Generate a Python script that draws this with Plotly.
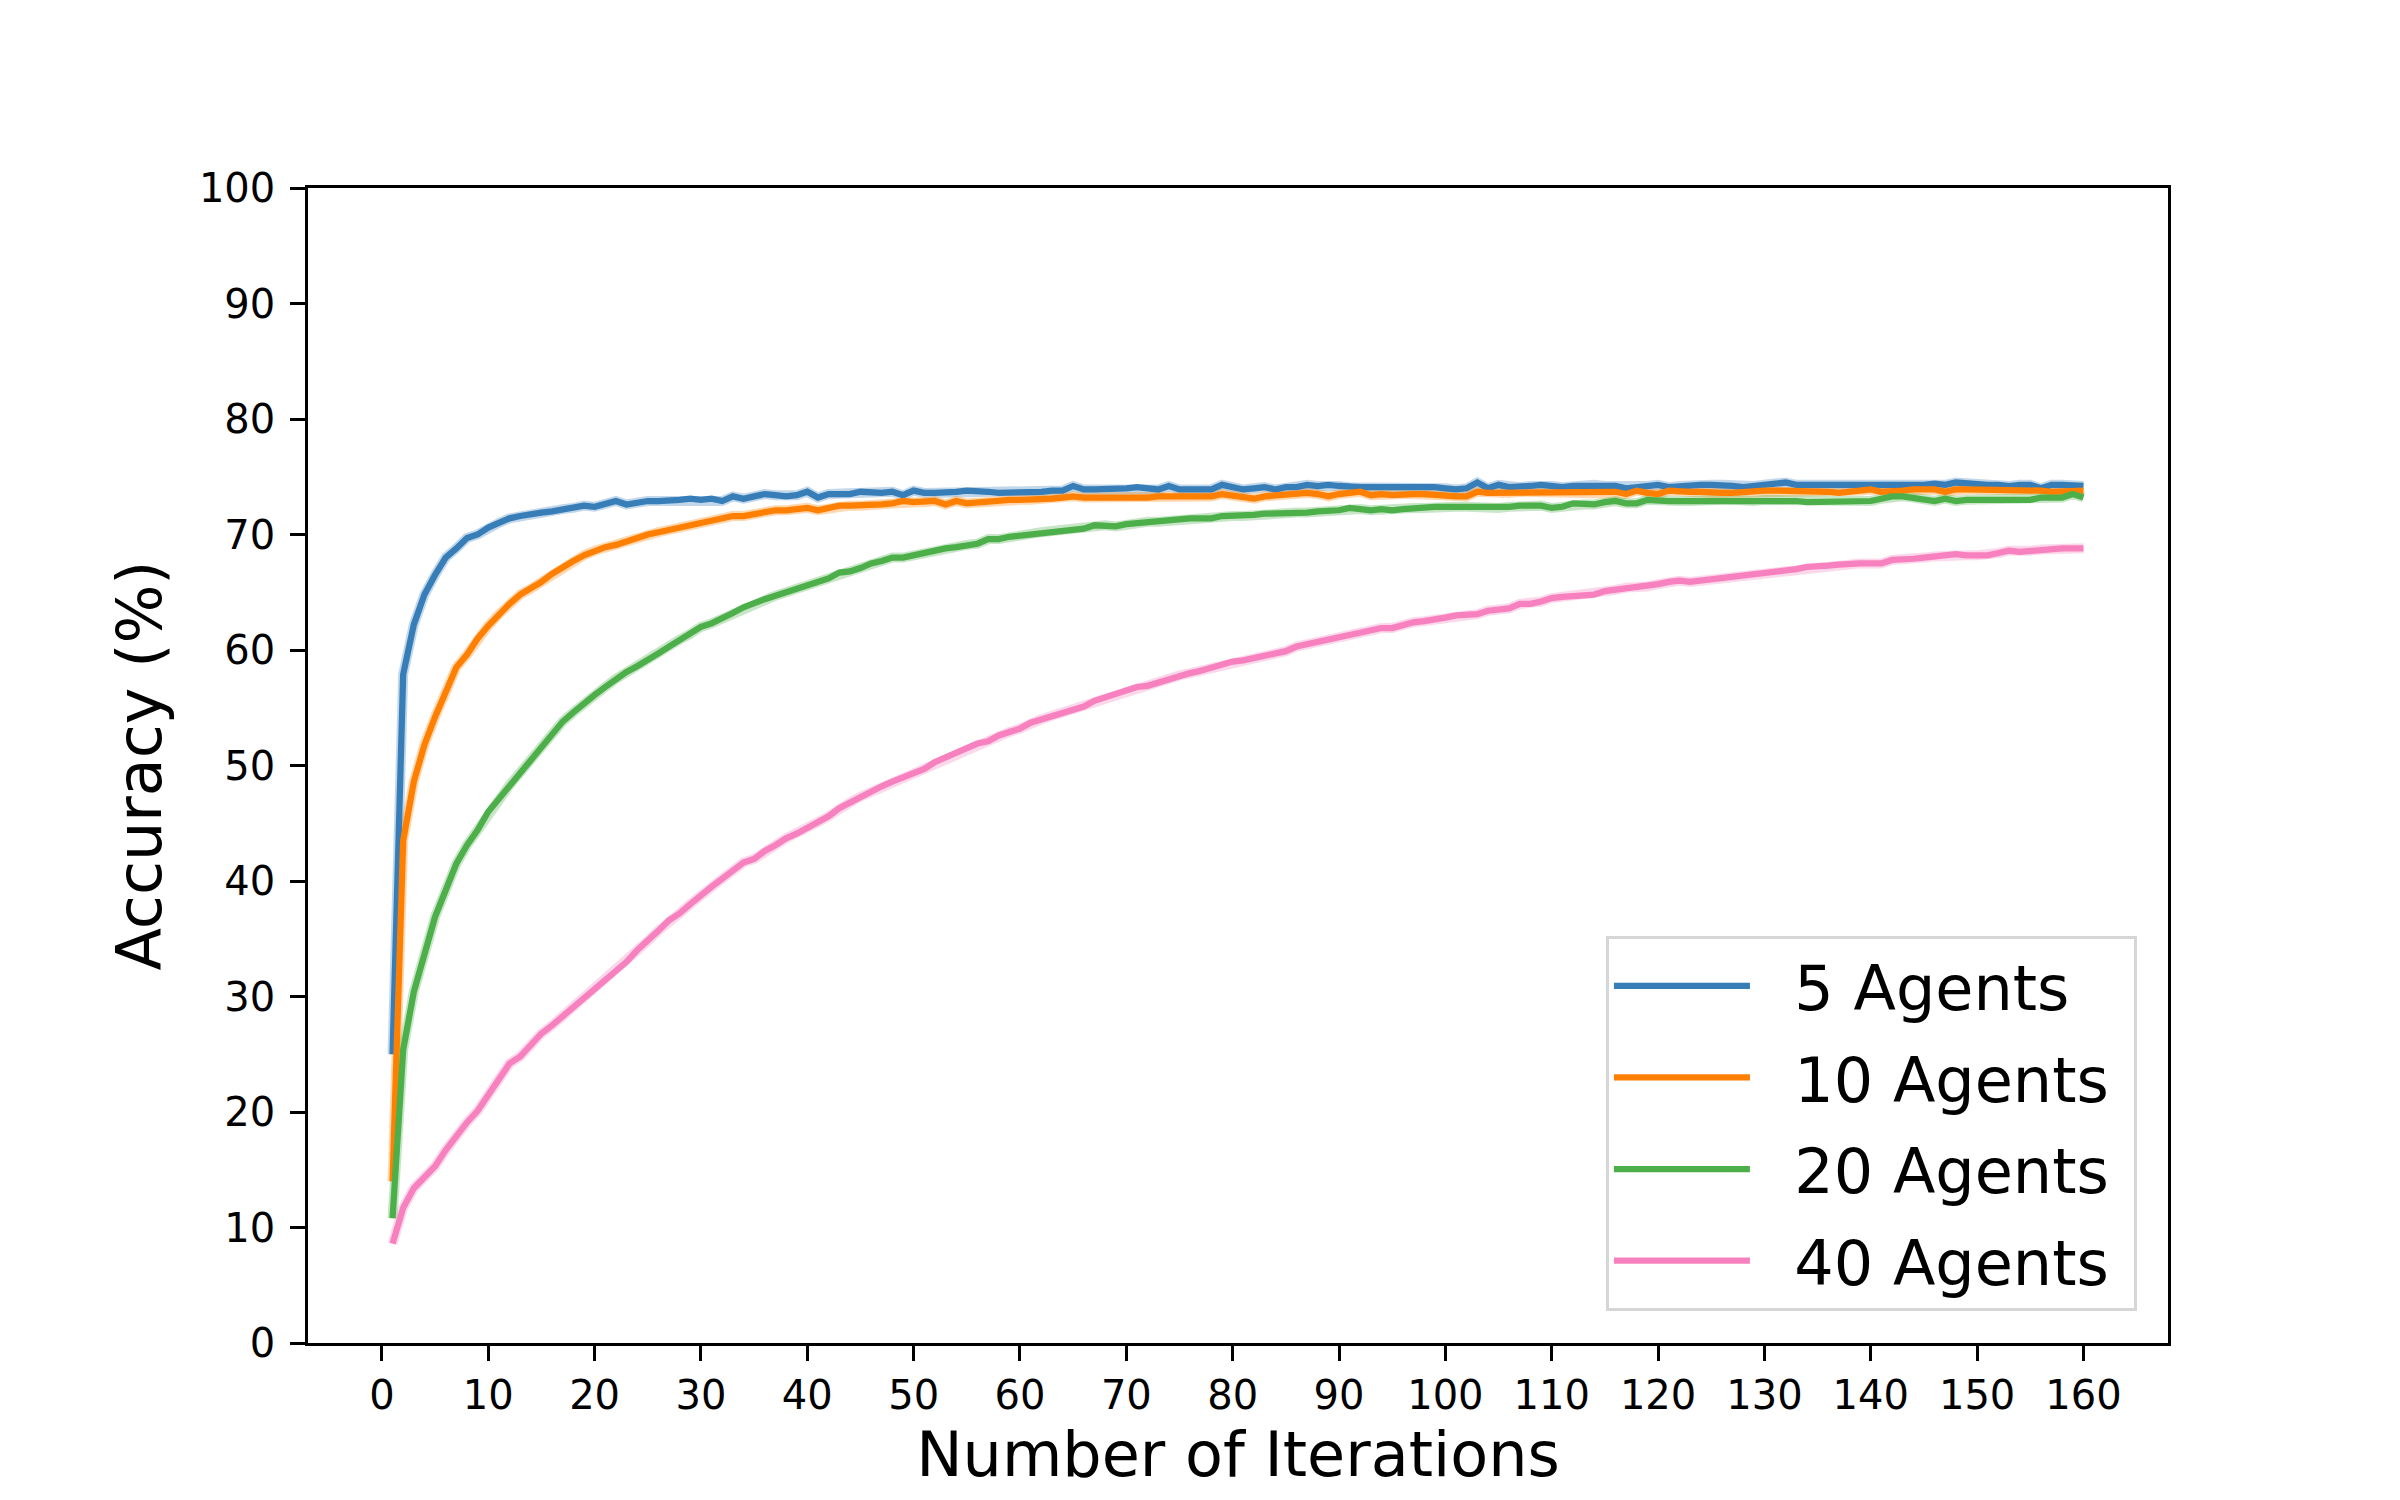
import plotly.graph_objects as go

iterations = list(range(1, 161))

acc_5_agents = [
    25.0, 57.9, 62.2, 64.8, 66.5, 68.0, 68.8, 69.7, 70.0, 70.6,
    71.0, 71.4, 71.6, 71.8, 71.9, 72.0, 72.2, 72.3, 72.5, 72.4,
    72.7, 72.9, 72.6, 72.8, 72.9, 72.9, 72.9, 73.0, 73.1, 73.0,
    73.1, 72.9, 73.3, 73.1, 73.3, 73.5, 73.4, 73.3, 73.4, 73.7,
    73.2, 73.5, 73.5, 73.5, 73.7, 73.6, 73.6, 73.7, 73.4, 73.8,
    73.6, 73.6, 73.6, 73.7, 73.8, 73.8, 73.7, 73.6, 73.6, 73.7,
    73.7, 73.7, 73.8, 73.8, 74.2, 73.9, 73.9, 73.9, 74.0, 74.0,
    74.1, 74.0, 73.9, 74.2, 73.9, 73.9, 73.9, 73.9, 74.3, 74.1,
    73.9, 74.0, 74.1, 73.9, 74.1, 74.1, 74.3, 74.2, 74.3, 74.2,
    74.1, 74.1, 74.1, 74.1, 74.2, 74.2, 74.1, 74.2, 74.1, 74.0,
    73.9, 74.0, 74.5, 74.0, 74.3, 74.1, 74.1, 74.2, 74.3, 74.2,
    74.1, 74.2, 74.2, 74.3, 74.2, 74.2, 74.0, 74.1, 74.2, 74.3,
    74.1, 74.2, 74.3, 74.3, 74.3, 74.3, 74.2, 74.1, 74.2, 74.3,
    74.4, 74.5, 74.3, 74.3, 74.2, 74.2, 74.2, 74.2, 74.2, 74.2,
    74.3, 74.3, 74.3, 74.3, 74.3, 74.4, 74.3, 74.5, 74.4, 74.3,
    74.3, 74.3, 74.2, 74.3, 74.3, 74.0, 74.3, 74.3, 74.2, 74.2,
]

acc_10_agents = [
    14.0, 43.5, 48.6, 51.8, 54.2, 56.4, 58.5, 59.6, 61.0, 62.1,
    63.1, 64.0, 64.8, 65.3, 65.9, 66.6, 67.2, 67.7, 68.2, 68.6,
    68.9, 69.1, 69.4, 69.8, 70.0, 70.2, 70.4, 70.6, 70.9, 71.1,
    71.2, 71.4, 71.6, 71.6, 71.8, 72.0, 72.1, 72.1, 72.2, 72.3,
    72.1, 72.3, 72.5, 72.5, 72.5, 72.6, 72.6, 72.7, 72.9, 72.8,
    72.8, 72.9, 72.6, 72.9, 72.7, 72.8, 72.8, 72.9, 73.0, 73.0,
    73.0, 73.1, 73.1, 73.2, 73.3, 73.2, 73.2, 73.2, 73.2, 73.2,
    73.1, 73.2, 73.3, 73.3, 73.2, 73.2, 73.3, 73.3, 73.5, 73.4,
    73.3, 73.1, 73.3, 73.4, 73.5, 73.5, 73.6, 73.5, 73.3, 73.5,
    73.6, 73.7, 73.4, 73.5, 73.4, 73.5, 73.5, 73.5, 73.4, 73.4,
    73.3, 73.3, 73.7, 73.6, 73.6, 73.6, 73.7, 73.7, 73.6, 73.6,
    73.6, 73.6, 73.6, 73.7, 73.7, 73.7, 73.5, 73.8, 73.6, 73.5,
    73.8, 73.7, 73.7, 73.7, 73.6, 73.6, 73.6, 73.7, 73.7, 73.8,
    73.8, 73.8, 73.7, 73.7, 73.7, 73.7, 73.6, 73.7, 73.8, 73.9,
    73.7, 73.7, 73.8, 73.9, 73.9, 73.9, 73.7, 73.9, 73.9, 73.9,
    73.9, 73.9, 73.9, 73.9, 73.8, 73.8, 73.7, 73.7, 73.8, 73.8,
]

acc_20_agents = [
    10.8, 25.4, 30.4, 33.8, 36.9, 39.2, 41.5, 43.1, 44.4, 46.0,
    47.1, 48.3, 49.4, 50.5, 51.7, 52.8, 53.8, 54.6, 55.4, 56.1,
    56.8, 57.5, 58.1, 58.6, 59.1, 59.7, 60.3, 60.9, 61.4, 62.0,
    62.3, 62.7, 63.2, 63.7, 64.1, 64.4, 64.7, 65.0, 65.3, 65.6,
    65.9, 66.2, 66.7, 66.8, 67.1, 67.5, 67.7, 68.0, 68.0, 68.2,
    68.5, 68.7, 68.8, 68.9, 69.1, 69.2, 69.6, 69.6, 69.8, 69.9,
    70.0, 70.2, 70.3, 70.4, 70.5, 70.5, 70.8, 70.8, 70.7, 70.9,
    71.0, 71.1, 71.1, 71.2, 71.3, 71.4, 71.4, 71.4, 71.6, 71.6,
    71.6, 71.7, 71.8, 71.8, 71.9, 71.9, 71.9, 72.0, 72.0, 72.1,
    72.3, 72.2, 72.1, 72.2, 72.1, 72.2, 72.3, 72.3, 72.4, 72.4,
    72.4, 72.4, 72.3, 72.4, 72.3, 72.4, 72.5, 72.5, 72.5, 72.3,
    72.4, 72.7, 72.6, 72.6, 72.8, 72.9, 72.7, 72.7, 73.0, 72.9,
    72.9, 72.9, 72.9, 73.0, 73.0, 73.0, 73.0, 72.9, 72.9, 73.0,
    73.0, 73.0, 72.9, 72.8, 72.8, 72.9, 72.9, 72.9, 72.9, 72.9,
    73.1, 73.3, 73.3, 73.2, 73.1, 72.9, 73.1, 72.9, 73.0, 73.0,
    73.1, 73.1, 73.1, 73.0, 73.0, 73.2, 73.2, 73.2, 73.5, 73.2,
]

acc_40_agents = [
    8.6, 11.7, 13.4, 14.3, 15.3, 16.7, 18.0, 19.1, 20.1, 21.5,
    22.9, 24.2, 24.8, 25.9, 26.8, 27.5, 28.3, 29.0, 29.8, 30.6,
    31.4, 32.2, 33.0, 34.0, 34.8, 35.7, 36.6, 37.2, 38.0, 38.8,
    39.5, 40.2, 40.9, 41.6, 41.9, 42.6, 43.1, 43.7, 44.1, 44.6,
    45.1, 45.6, 46.3, 46.8, 47.3, 47.7, 48.2, 48.6, 49.0, 49.4,
    49.7, 50.3, 50.7, 51.0, 51.5, 51.9, 52.1, 52.6, 52.9, 53.2,
    53.7, 54.0, 54.3, 54.6, 54.9, 55.1, 55.6, 55.9, 56.2, 56.5,
    56.8, 56.9, 57.2, 57.5, 57.8, 58.0, 58.2, 58.5, 58.8, 59.0,
    59.1, 59.3, 59.6, 59.7, 59.9, 60.3, 60.5, 60.7, 60.9, 61.1,
    61.3, 61.5, 61.8, 61.9, 61.9, 62.2, 62.4, 62.5, 62.6, 62.8,
    63.0, 63.1, 63.1, 63.4, 63.5, 63.6, 64.0, 64.0, 64.2, 64.5,
    64.6, 64.7, 64.8, 64.8, 65.1, 65.2, 65.4, 65.4, 65.5, 65.7,
    65.9, 66.0, 65.9, 66.0, 66.2, 66.2, 66.3, 66.5, 66.6, 66.7,
    66.8, 66.9, 67.0, 67.2, 67.2, 67.3, 67.4, 67.5, 67.5, 67.5,
    67.5, 67.8, 67.8, 67.9, 68.0, 68.1, 68.2, 68.3, 68.2, 68.2,
    68.2, 68.4, 68.6, 68.5, 68.6, 68.7, 68.7, 68.8, 68.8, 68.8,
]

series_names = ["5 Agents", "10 Agents", "20 Agents", "40 Agents"]
series_values = [acc_5_agents, acc_10_agents, acc_20_agents, acc_40_agents]
series_colors = ["#377eb8", "#ff7f00", "#4daf4a", "#f781bf"]

x_ticks = list(range(0, 161, 10))
y_ticks = list(range(0, 101, 10))

FONT = "DejaVu Sans"
NB = "\u00a0"

fig = go.Figure()
# faint halo (shaded spread band look) under each line
for name, vals, col in zip(series_names, series_values, series_colors):
    fig.add_trace(go.Scatter(
        x=iterations, y=vals, mode="lines", legendgroup=name, showlegend=False,
        line=dict(color=col, width=10), opacity=0.3, hoverinfo="skip",
    ))
for name, vals, col in zip(series_names, series_values, series_colors):
    fig.add_trace(go.Scatter(
        x=iterations, y=vals, mode="lines", name=NB * 2 + name + NB,
        legendgroup=name,
        line=dict(color=col, width=6.25),
    ))

axis_common = dict(
    showline=True, linecolor="black", linewidth=3.3, mirror=True,
    ticks="outside", ticklen=14.6, tickwidth=3.3, tickcolor="black",
    showgrid=False, zeroline=False,
    tickfont=dict(family=FONT, size=40, color="black"),
)

fig.update_xaxes(
    range=[-6.95, 167.95], tickmode="array", tickvals=x_ticks,
    ticklabelstandoff=0,
    title=dict(text="Number of Iterations", font=dict(family=FONT, size=62, color="black"), standoff=14),
    **axis_common,
)
fig.update_yaxes(
    range=[0, 100], tickmode="array", tickvals=y_ticks,
    ticklabelstandoff=7,
    title=dict(text="Accuracy (%)", font=dict(family=FONT, size=62, color="black"), standoff=18),
    **axis_common,
)

fig.update_layout(
    width=2400, height=1500,
    margin=dict(l=300, r=240, t=180, b=165, pad=0),
    paper_bgcolor="white", plot_bgcolor="white",
    font=dict(family=FONT, color="black"),
    showlegend=True,
    legend=dict(
        x=0.9833, y=0.0277, xanchor="right", yanchor="bottom",
        font=dict(family=FONT, size=62, color="black"),
        bordercolor="#d6d6d6", borderwidth=3, bgcolor="white",
        tracegroupgap=8, itemwidth=136,
    ),
)

fig.write_html("out.html")
